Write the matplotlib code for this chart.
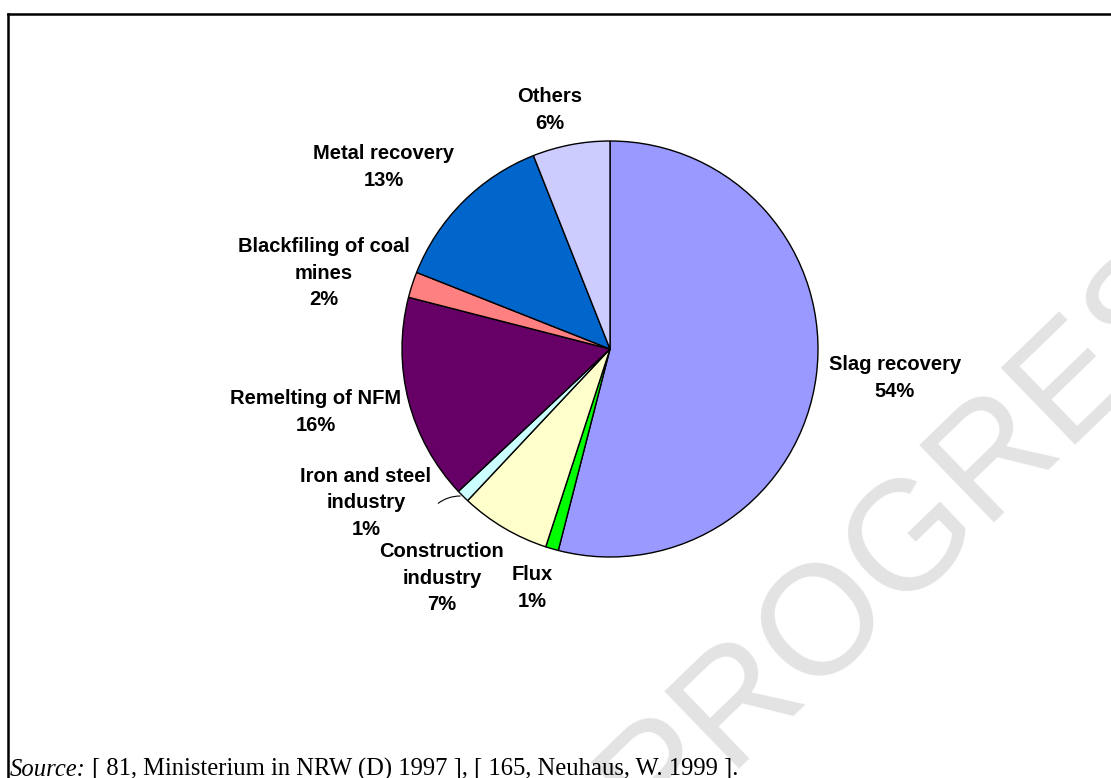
#!/usr/bin/env python3
"""Pie chart: uses of slags and residues (NFM industry)."""

import matplotlib
matplotlib.use("Agg")
import matplotlib.pyplot as plt
from matplotlib.lines import Line2D
import numpy as np

# data
labels = ["Slag recovery", "Flux", "Construction\nindustry", "Iron and steel\nindustry",
          "Remelting of NFM", "Blackfiling of coal\nmines", "Metal recovery", "Others"]
shares = [54, 1, 7, 1, 16, 2, 13, 6]
colors = ["#9999FF", "#00FF00", "#FFFFCC", "#CCFFFF", "#660066", "#FF8080", "#0066CC", "#CCCCFF"]

W, H = 1111, 778

# label centres in picture pixels (x from left, y from top)
label_pos = [(895, 378), (532, 588), (442, 578), (366, 503),
             (316, 412), (324, 273), (384, 167), (550, 110)]

fig = plt.figure(figsize=(W / 100, H / 100), dpi=100)
ax = fig.add_axes([0, 0, 1, 1])

wedges, _ = ax.pie(shares, colors=colors, startangle=90, counterclock=False,
                   center=(610, H - 349), radius=208,
                   wedgeprops=dict(edgecolor="black", linewidth=1.0))
for w in wedges:
    w.set_zorder(2)

# pie() sets its own limits, so put the pixel frame back afterwards
ax.set_xlim(0, W)
ax.set_ylim(0, H)
ax.set_aspect("equal")
ax.axis("off")

# watermark behind everything
ax.text(942, H - 505, "PROGRESS", fontsize=112, color="#e3e3e3", rotation=44,
        ha="center", va="center", family="Liberation Sans", zorder=0)

for lab, val, (x, y) in zip(labels, shares, label_pos):
    ax.text(x, H - y, f"{lab}\n{val}%", ha="center", va="center",
            fontsize=14.5, fontweight="bold", family="Liberation Sans",
            linespacing=1.5, zorder=3)

# leader line for the small iron and steel slice
w = wedges[3]
mid = np.deg2rad((w.theta1 + w.theta2) / 2)
ex = w.center[0] + w.r * np.cos(mid)
ey = w.center[1] + w.r * np.sin(mid)
ax.annotate("", xy=(ex, ey), xytext=(436, H - 505),
            arrowprops=dict(arrowstyle="-", color="black", lw=0.8,
                            connectionstyle="arc3,rad=-0.2"), zorder=3)

# source line
src = ax.text(10, 2, "Source:", fontsize=17.7, style="italic",
              family="Liberation Serif", va="baseline", ha="left")
fig.canvas.draw()
bb = src.get_window_extent()
ax.text(bb.x1 + 6, 2, "[ 81, Ministerium in NRW (D) 1997 ], [ 165, Neuhaus, W. 1999 ].",
        fontsize=17.7, family="Liberation Serif", va="baseline", ha="left")

# frame: top and left edges only visible
fig.add_artist(Line2D([8 / W, 1], [1 - 14 / H, 1 - 14 / H], color="black", lw=1.8))
fig.add_artist(Line2D([8 / W, 8 / W], [0, 1 - 14 / H], color="black", lw=1.8))

plt.savefig("out.png", dpi=100)
